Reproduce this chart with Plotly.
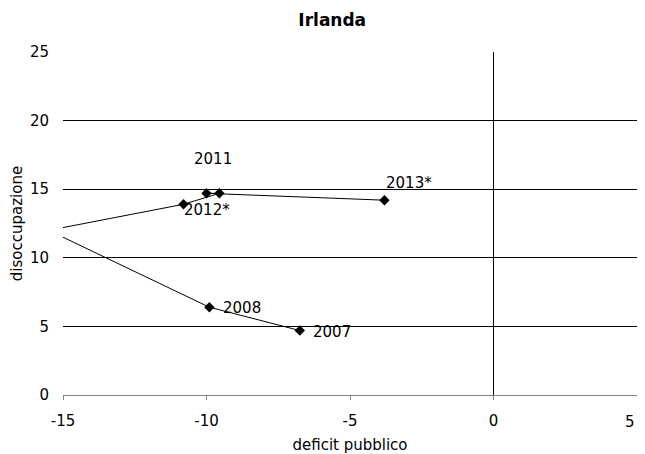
import plotly.graph_objects as go

# Data
years = ["2007", "2008", "2009", "2010", "2011", "2012*", "2013*"]
deficit = [-6.75, -9.9, -15.5, -10.8, -9.55, -10.0, -3.8]
unemployment = [4.7, 6.4, 12.0, 13.9, 14.7, 14.7, 14.2]

# Data-label texts (as shown) and their placements (layout)
label_texts = ["2007", "2008", "2011", "2012*", "2013*"]
label_x = [-6.35, -9.5, -10.52, -10.85, -3.8]
label_y = [4.61, 6.35, 17.2, 13.46, 15.45]

x_ticks = [-15, -10, -5, 0, 5]
x_tick_labels = ["-15", "-10", "-5", "0", "5"]
y_ticks = [0, 5, 10, 15, 20, 25]

FONT = "Verdana, DejaVu Sans, sans-serif"

fig = go.Figure()
fig.add_trace(go.Scatter(
    x=deficit, y=unemployment, mode="lines+markers",
    line=dict(color="black", width=1),
    marker=dict(symbol="diamond", size=8, color="black"),
    hoverinfo="x+y", text=years, showlegend=False,
))

for t, lx, ly in zip(label_texts, label_x, label_y):
    fig.add_annotation(x=lx, y=ly, text=t, showarrow=False,
                       xanchor="left", yanchor="middle",
                       font=dict(family=FONT, size=15, color="black"))

# last x tick label is pulled inside the right edge, as in the reference
fig.add_annotation(x=x_ticks[-1], xref="x", y=-0.079, yref="paper",
                   text=x_tick_labels[-1], showarrow=False,
                   xanchor="right", yanchor="middle",
                   font=dict(family=FONT, size=15, color="black"))

# page body has an 8px margin, so the figure is sized to fit the window
fig.update_layout(
    width=637, height=446,
    margin=dict(l=55, r=8, t=44, b=59, autoexpand=False),
    paper_bgcolor="white", plot_bgcolor="white",
    font=dict(family=FONT, size=15, color="black"),
    title=dict(text="<b>Irlanda</b>", x=0.509, xanchor="center",
               y=0.974, yanchor="middle", automargin=False,
               font=dict(family=FONT, size=17, color="black")),
    showlegend=False,
)

fig.update_xaxes(
    range=[-15, 5], tickvals=x_ticks,
    ticktext=x_tick_labels[:-1] + [""],
    showgrid=False, zeroline=True, zerolinecolor="black", zerolinewidth=1,
    showline=True, linecolor="#808080", linewidth=1,
    ticks="outside", ticklen=4, tickcolor="#808080", ticklabelstandoff=8,
    title=dict(text="deficit pubblico", font=dict(size=15), standoff=10),
    tickfont=dict(size=15), automargin=False, ticklabeloverflow="allow",
)
fig.update_yaxes(
    range=[0, 25], tickvals=y_ticks, ticktext=[str(v) for v in y_ticks],
    showgrid=True, gridcolor="black", gridwidth=1,
    zeroline=False, showline=False,
    ticks="outside", ticklen=10, tickcolor="rgba(0,0,0,0)",
    title=dict(text="disoccupazione", font=dict(size=15), standoff=8),
    tickfont=dict(size=15), automargin=False, ticklabeloverflow="allow",
)

fig.write_html("out.html")
